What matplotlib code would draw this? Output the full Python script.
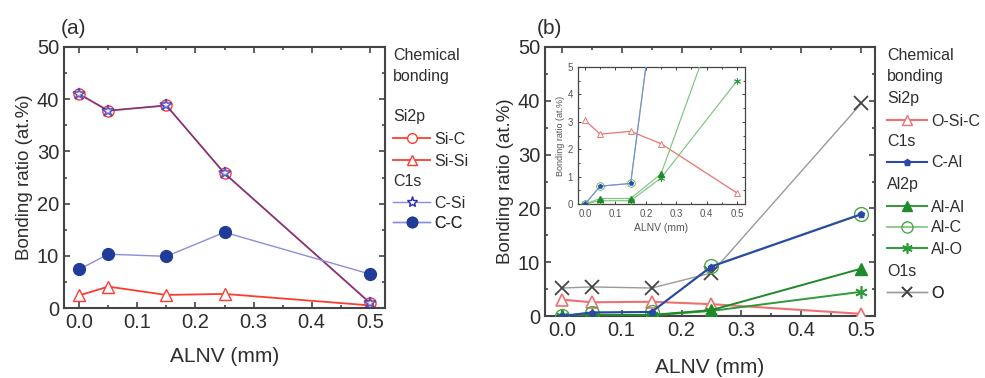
import matplotlib
matplotlib.use("Agg")
import matplotlib.pyplot as plt
from matplotlib.lines import Line2D
from matplotlib.ticker import MultipleLocator

plt.rcParams['font.family'] = ['Liberation Sans', 'DejaVu Sans']

# ---------------- data ----------------
alnv = [0.0, 0.05, 0.15, 0.25, 0.5]

# panel (a)
si_c = [41.0, 37.8, 38.8, 25.8, 1.0]
si_si = [2.4, 4.1, 2.5, 2.7, 0.5]
c_si = [41.0, 37.8, 38.8, 25.8, 1.0]
c_c = [7.4, 10.3, 9.9, 14.5, 6.5]

# panel (b)
o_si_c = [3.05, 2.55, 2.65, 2.2, 0.4]
c_al = [0.0, 0.65, 0.75, 9.2, 18.9]
al_al = [0.0, 0.2, 0.2, 1.1, 8.8]
al_c = [0.0, 0.65, 0.75, 9.3, 19.0]
al_o = [0.0, 0.12, 0.12, 0.95, 4.5]
o_1s = [5.2, 5.4, 5.2, 8.0, 39.5]

xticks = [0.0, 0.1, 0.2, 0.3, 0.4, 0.5]
xticklabels = ['0.0', '0.1', '0.2', '0.3', '0.4', '0.5']

TXT = '#2e2e2e'
SP = '#444444'

fig = plt.figure(figsize=(9.85, 3.78), dpi=100)

def style_axes(ax, fs, ymaj, ymin, lw=1.5, tl=4):
    for s in ax.spines.values():
        s.set_color(SP)
        s.set_linewidth(lw)
    ax.set_xticks(xticks, xticklabels)
    ax.xaxis.set_minor_locator(MultipleLocator(0.05))
    ax.yaxis.set_major_locator(MultipleLocator(ymaj))
    ax.yaxis.set_minor_locator(MultipleLocator(ymin))
    ax.tick_params(which='both', direction='in', top=True, right=True,
                   colors=SP, labelcolor=TXT, labelsize=fs, width=lw * 0.8)
    ax.tick_params(which='major', length=tl)
    ax.tick_params(which='minor', length=tl * 0.6)

def entry(ax, x, y, handle, label, fs, hl):
    leg = ax.legend([handle], [label], loc='center left', bbox_to_anchor=(x, y),
                    frameon=False, borderpad=0, borderaxespad=0, fontsize=fs,
                    handlelength=hl, handletextpad=0.25, labelcolor=TXT)
    ax.add_artist(leg)

TFS = 14.5
XLFS = 15
YLFS = 13.5

# ---------------- panel (a) ----------------
axa = fig.add_axes([64 / 985, 1 - 308 / 378, 321 / 985, 261 / 378])
red = '#ff3b30'
navy = '#1f3c99'
lblue = '#8c8ce0'
axa.plot(alnv, si_c, color=red, lw=1.3, marker='o', ms=8, mfc='white',
         mec=red, mew=1.0, zorder=2)
axa.plot(alnv, si_si, color=red, lw=1.3, marker='^', ms=8, mfc='white',
         mec=red, mew=1.0, zorder=2)
axa.plot(alnv, c_si, color='#3a3ab0', lw=1.0, alpha=0.75, marker='*', ms=9,
         mfc='white', mec='#2a2ab0', mew=1.2, zorder=3)
axa.plot(alnv, c_c, color=lblue, lw=1.0, marker='o', ms=8.5, mfc=navy,
         mec=navy, zorder=3)
axa.set_xlim(-0.026, 0.526)
axa.set_ylim(0, 50)
style_axes(axa, TFS, 10, 5)
axa.set_xlabel('ALNV (mm)', fontsize=XLFS, color=TXT, labelpad=11)
axa.set_ylabel('Bonding ratio (at.%)', fontsize=YLFS, color=TXT, labelpad=3)
axa.text(-0.01, 1.035, '(a)', transform=axa.transAxes, fontsize=15, color=TXT,
         ha='left', va='bottom')

fa = lambda y: (308 - y) / 261
lx_a = (393 - 64) / 321
lfs = 11.5
axa.text(lx_a, fa(55), 'Chemical', transform=axa.transAxes, fontsize=lfs, color=TXT, va='center')
axa.text(lx_a, fa(76), 'bonding', transform=axa.transAxes, fontsize=lfs, color=TXT, va='center')
axa.text(lx_a, fa(117), 'Si2p', transform=axa.transAxes, fontsize=lfs, color=TXT, va='center')
axa.text(lx_a, fa(182), 'C1s', transform=axa.transAxes, fontsize=lfs, color=TXT, va='center')
hla = 37 / (lfs * 100 / 72)
entry(axa, lx_a, fa(139), Line2D([], [], color=red, lw=1.3, marker='o', ms=7, mfc='white', mec=red), 'Si-C', lfs, hla)
entry(axa, lx_a, fa(161), Line2D([], [], color=red, lw=1.3, marker='^', ms=7, mfc='white', mec=red), 'Si-Si', lfs, hla)
entry(axa, lx_a, fa(203), Line2D([], [], color=lblue, lw=1.0, marker='*', ms=8, mfc='white', mec='#2a2ab0'), 'C-Si', lfs, hla)
entry(axa, lx_a, fa(223), Line2D([], [], color=lblue, lw=1.0, marker='o', ms=7.5, mfc=navy, mec=navy), 'C-C', lfs, hla)

# ---------------- panel (b) ----------------
axb = fig.add_axes([545 / 985, 1 - 316 / 378, 330 / 985, 269 / 378])
pink = '#f07070'
blue = '#2a48a8'
dgreen = '#1e8a2a'
lgreen = '#7cc47c'
mgreen = '#2e9a3a'
gray = '#9a9a9a'

def draw_b(ax, s, lw, inset=False):
    ax.plot(alnv, o_1s, color=gray, lw=1.0 * lw, marker='x', ms=9.5 * s, mec='#444444',
            mew=1.3 * s, zorder=2)
    ax.plot(alnv, o_si_c, color=pink, lw=1.5 * lw, marker='^', ms=8.5 * s, mfc='white',
            mec=pink, mew=1.2 * s, zorder=3)
    ax.plot(alnv, al_c, color=lgreen, lw=1.2 * lw, marker='o', ms=10 * s, mfc='none',
            mec='#48a848', mew=1.0 * s, zorder=3)
    ax.plot(alnv, al_o, color=lgreen if inset else mgreen, lw=1.4 * lw, marker=(6, 2, 0),
            ms=9 * s, mec=mgreen, mew=1.2 * s, zorder=4)
    ax.plot(alnv, al_al, color=lgreen if inset else dgreen, lw=1.4 * lw, marker='^',
            ms=8.5 * s, mfc=dgreen, mec=dgreen, zorder=4)
    ax.plot(alnv, c_al, color='#7f8fd8' if inset else blue, lw=1.5 * lw, marker='p',
            ms=5 * s, mfc=blue, mec=blue, zorder=5)

draw_b(axb, 1.0, 1.0)
axb.set_xlim(-0.028, 0.523)
axb.set_ylim(0, 50)
style_axes(axb, TFS, 10, 5)
axb.set_xlabel('ALNV (mm)', fontsize=XLFS, color=TXT, labelpad=13)
axb.set_ylabel('Bonding ratio (at.%)', fontsize=YLFS, color=TXT, labelpad=3)
axb.text(-0.025, 1.035, '(b)', transform=axb.transAxes, fontsize=15, color=TXT,
         ha='left', va='bottom')

fb = lambda y: (316 - y) / 269
lx_b = (887 - 545) / 330
for txt, yy in [('Chemical', 55), ('bonding', 77), ('Si2p', 99), ('C1s', 142),
                ('Al2p', 185), ('O1s', 272)]:
    axb.text(lx_b, fb(yy), txt, transform=axb.transAxes, fontsize=lfs, color=TXT, va='center')
hlb = 40 / (lfs * 100 / 72)
entry(axb, lx_b, fb(121), Line2D([], [], color=pink, lw=1.5, marker='^', ms=7.5, mfc='white', mec=pink), 'O-Si-C', lfs, hlb)
entry(axb, lx_b, fb(163), Line2D([], [], color=blue, lw=1.5, marker='p', ms=5, mfc=blue, mec=blue), 'C-Al', lfs, hlb)
entry(axb, lx_b, fb(207), Line2D([], [], color=mgreen, lw=1.4, marker='^', ms=7.5, mfc=dgreen, mec=dgreen), 'Al-Al', lfs, hlb)
entry(axb, lx_b, fb(228), Line2D([], [], color=lgreen, lw=1.2, marker='o', ms=8, mfc='none', mec='#48a848'), 'Al-C', lfs, hlb)
entry(axb, lx_b, fb(249), Line2D([], [], color=mgreen, lw=1.4, marker=(6, 2, 0), ms=7.5, mec=mgreen, mew=1.2), 'Al-O', lfs, hlb)
entry(axb, lx_b, fb(293), Line2D([], [], color=gray, lw=1.0, marker='x', ms=7.5, mec='#444444', mew=1.2), 'O', lfs, hlb)

# ---------------- inset ----------------
axi = fig.add_axes([578 / 985, 1 - 204 / 378, 167 / 985, 137 / 378])
draw_b(axi, 0.55, 0.6, inset=True)
axi.set_xlim(-0.023, 0.526)
axi.set_ylim(0, 5)
style_axes(axi, 7, 1, 0.5, lw=0.9, tl=2.5)
axi.set_xlabel('ALNV (mm)', fontsize=7.5, color='#555555', labelpad=3)
axi.set_ylabel('Bonding ratio (at.%)', fontsize=6.5, color='#555555', labelpad=2)
for lab in axi.get_xticklabels() + axi.get_yticklabels():
    lab.set_color('#555555')

fig.savefig('out.png', dpi=100)
